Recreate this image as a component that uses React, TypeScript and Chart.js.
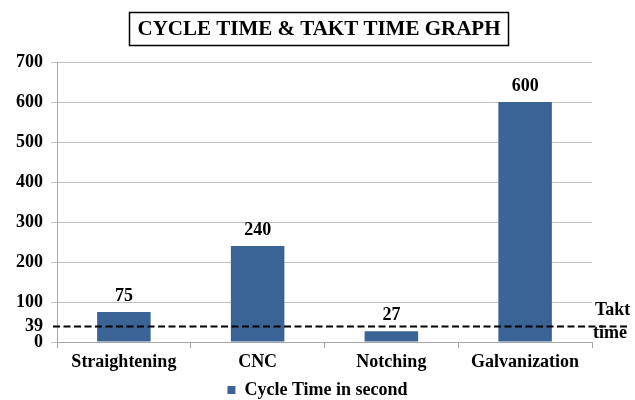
import React, { useEffect, useRef } from "react";
import { Chart, registerables } from "chart.js";

Chart.register(...registerables);

const titleText = "CYCLE TIME & TAKT TIME GRAPH";
const categories = ["Straightening", "CNC", "Notching", "Galvanization"];
const cycleTimes = [75, 240, 27, 600];
const seriesName = "Cycle Time in second";
const taktTime = 39;
const yTicks = [0, 39, 100, 200, 300, 400, 500, 600, 700];
const taktLabel = ["Takt", "time"];

const FONT = "'Liberation Serif', 'Times New Roman', serif";
const BAR = "#3b6496";

const overlayPlugin = {
  id: "overlay",
  afterDraw(chart: any) {
    const { ctx, chartArea, scales } = chart;
    const y = scales.y;
    ctx.save();
    // title box
    ctx.font = `bold 21px ${FONT}`;
    const tw = ctx.measureText(titleText).width;
    const cx = 319;
    const cy = 29;
    ctx.lineWidth = 1.5;
    ctx.strokeStyle = "#000";
    ctx.strokeRect(Math.round(cx - tw / 2 - 8) + 0.5, 12.5, Math.round(tw + 16), 33);
    ctx.fillStyle = "#000";
    ctx.textAlign = "center";
    ctx.textBaseline = "middle";
    ctx.fillText(titleText, cx, cy + 1);

    // data labels
    ctx.font = `bold 18px ${FONT}`;
    ctx.textBaseline = "alphabetic";
    const meta = chart.getDatasetMeta(0);
    meta.data.forEach((bar: any, i: number) => {
      ctx.fillText(String(cycleTimes[i]), bar.x, bar.y - 11);
    });

    // takt line
    const ty = Math.round(y.getPixelForValue(taktTime)) + 0.5;
    ctx.beginPath();
    ctx.setLineDash([7, 3.5]);
    ctx.lineWidth = 2;
    ctx.moveTo(chartArea.left - 4, ty);
    ctx.lineTo(628, ty);
    ctx.stroke();
    ctx.setLineDash([]);

    ctx.textAlign = "left";
    ctx.textBaseline = "middle";
    ctx.fillText(taktLabel[0], 595, ty - 16);
    ctx.fillText(taktLabel[1], 593, ty + 7);
    ctx.restore();
  },
};

export default function App() {
  const ref = useRef<HTMLCanvasElement | null>(null);
  useEffect(() => {
    if (!ref.current) return;
    const chart = new Chart(ref.current, {
      type: "bar",
      data: {
        labels: categories,
        datasets: [
          {
            label: seriesName,
            data: cycleTimes,
            backgroundColor: BAR,
            borderWidth: 0,
            barPercentage: 0.4,
            categoryPercentage: 1,
          },
        ],
      },
      options: {
        animation: false,
        responsive: false,
        maintainAspectRatio: false,
        layout: { padding: { top: 62, right: 0, left: 0, bottom: 0 } },
        plugins: {
          title: { display: false },
          tooltip: { enabled: false },
          legend: {
            position: "bottom",
            maxHeight: 21,
            labels: {
              boxWidth: 8,
              boxHeight: 8,
              padding: 2,
              color: "#000",
              font: { family: FONT, size: 18, weight: "bold" },
            },
          },
        },
        scales: {
          x: {
            afterFit: (scale: any) => {
              scale.height = 37;
            },
            grid: {
              offset: true,
              drawOnChartArea: false,
              tickLength: 6,
              color: "#a6a6a6",
            },
            border: { color: "#a6a6a6" },
            ticks: {
              color: "#000",
              padding: 4,
              maxRotation: 0,
              font: { family: FONT, size: 18, weight: "bold" },
            },
          },
          y: {
            min: 0,
            max: 700,
            afterBuildTicks: (scale: any) => {
              scale.ticks = yTicks.map((v) => ({ value: v }));
            },
            afterFit: (scale: any) => {
              scale.width = 57;
            },
            grid: {
              tickLength: 6,
              color: (c: any) => (c.tick && c.tick.value === taktTime ? "rgba(0,0,0,0)" : "#c0c0c0"),
            },
            border: { color: "#a6a6a6" },
            ticks: {
              color: "#000",
              padding: 8,
              autoSkip: false,
              font: { family: FONT, size: 18, weight: "bold" },
              callback: (v: any) => String(v),
            },
          },
          yRight: {
            position: "right",
            min: 0,
            max: 700,
            grid: { display: false },
            border: { display: false },
            ticks: { display: false },
            afterFit: (scale: any) => {
              scale.width = 43;
            },
          },
        },
      },
      plugins: [overlayPlugin],
    });
    return () => chart.destroy();
  }, []);
  return (
    <div style={{ position: "fixed", left: 0, top: 0, width: 635, height: 400, background: "#fff" }}>
      <canvas ref={ref} width={635} height={400} style={{ width: 635, height: 400 }} />
    </div>
  );
}
